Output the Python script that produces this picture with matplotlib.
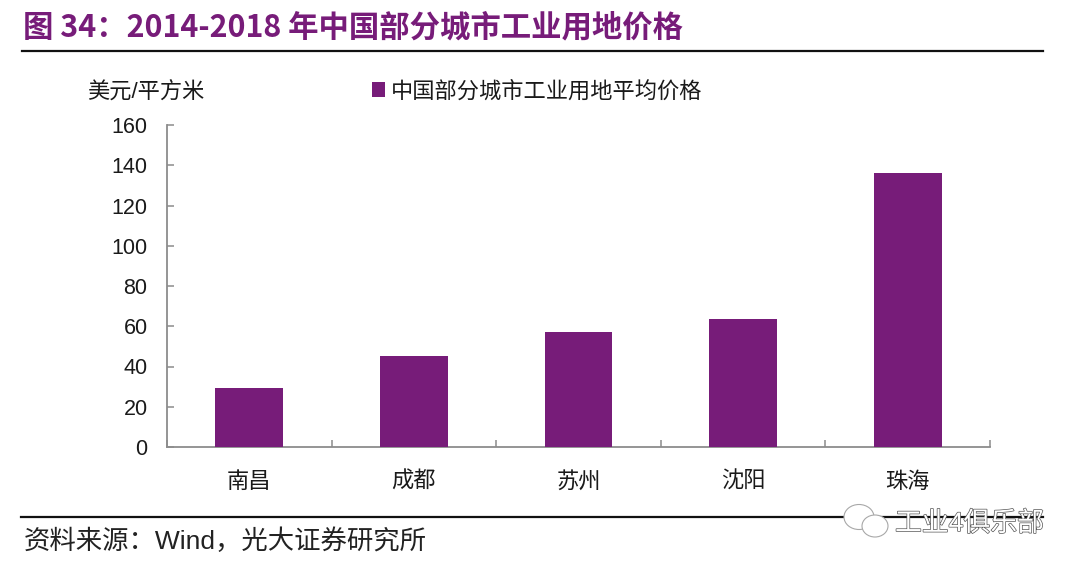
import matplotlib
matplotlib.use("Agg")
import matplotlib.pyplot as plt
import matplotlib.patheffects as pe
from matplotlib.lines import Line2D
from matplotlib.patches import Ellipse

cities = ["南昌", "成都", "苏州", "沈阳", "珠海"]
prices = [29.5, 45.2, 57.1, 63.6, 136.2]
yticks = [0, 20, 40, 60, 80, 100, 120, 140, 160]
series_name = "中国部分城市工业用地平均价格"
unit = "美元/平方米"
title = "图 34：2014-2018 年中国部分城市工业用地价格"
source = "资料来源：Wind，光大证券研究所"
watermark = "工业4俱乐部"

PURPLE = "#771C79"
W, H = 1080, 571
plt.rcParams["font.family"] = ["Liberation Sans", "Noto Sans CJK SC"]

fig = plt.figure(figsize=(W / 100, H / 100), dpi=100, facecolor="white")
fx = lambda x: x / W
fy = lambda y: 1 - y / H

ax = fig.add_axes([fx(167), fy(447), (990 - 167) / W, (447 - 125) / H])
x = list(range(len(cities)))
bars = ax.bar(x, prices, width=0.413, color=PURPLE, label=series_name, zorder=3)
ax.set_xlim(-0.5, len(cities) - 0.5)
ax.set_ylim(0, 160)
ax.set_yticks(yticks)
ax.set_xticks([i - 0.5 for i in range(len(cities) + 1)])
ax.set_xticklabels([])
ax.set_xticks(x, minor=True)
ax.set_xticklabels(cities, minor=True, fontsize=16, color="#1a1a1a")
for s in ("top", "right"):
    ax.spines[s].set_visible(False)
for s in ("left", "bottom"):
    ax.spines[s].set_color("#8c8c8c")
    ax.spines[s].set_linewidth(1.3)
ax.tick_params(axis="y", which="major", direction="in", length=5, width=1.1,
               color="#8c8c8c", labelsize=15.5, labelcolor="#1a1a1a", pad=14)
ax.tick_params(axis="x", which="major", direction="in", length=5, width=1.1, color="#8c8c8c")
ax.tick_params(axis="x", which="minor", length=0, pad=18)

leg = ax.legend(loc="upper left", bbox_to_anchor=((372 - 167) / 823, (447 - 81) / 322),
                frameon=False, fontsize=16, handlelength=0.6, handleheight=0.6,
                handletextpad=0.25, borderpad=0, borderaxespad=0, labelcolor="#1a1a1a")

fig.text(fx(145.5), fy(93), unit, fontsize=16, ha="center", va="center", color="#1a1a1a")

fig.text(fx(23), fy(27), title, fontsize=21.9, fontweight="bold", color=PURPLE,
         family="Noto Sans CJK SC", ha="left", va="center")
fig.add_artist(Line2D([fx(22), fx(1043)], [fy(51), fy(51)], color="#111111", lw=1.6))
fig.add_artist(Line2D([fx(21), fx(1043)], [fy(517), fy(517)], color="#111111", lw=1.6))
fig.text(fx(24), fy(541), source, fontsize=19, color="#222222", ha="left", va="center")

# watermark: WeChat-style outline icon and white outlined text
for cx, cy, w, h in [(859, 517, 30, 25), (875, 526, 26, 22)]:
    fig.add_artist(Ellipse((fx(cx), fy(cy)), w / W, h / H, transform=fig.transFigure,
                           facecolor="white", edgecolor="#a8a8a8", lw=0.8, zorder=5))
fig.text(fx(895), fy(524), watermark, fontsize=19.3, color="white", ha="left", va="center",
         zorder=6, path_effects=[pe.withStroke(linewidth=1.0, foreground="#555555")])

fig.savefig("out.png", dpi=100, facecolor="white")
